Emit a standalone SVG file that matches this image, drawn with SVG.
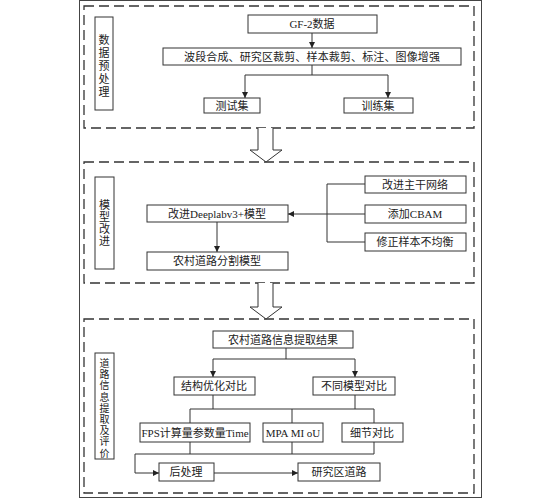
<svg xmlns="http://www.w3.org/2000/svg" width="552" height="500" viewBox="0 0 552 500">
<defs>
<marker id="ah" viewBox="0 0 8 8" refX="8" refY="4" markerWidth="6" markerHeight="6" orient="auto" markerUnits="userSpaceOnUse"><path d="M0,0 L8,4 L0,8 z" fill="#222"/></marker>
<style>
.box{fill:#fff;stroke:#333;stroke-width:1}
.dash{fill:none;stroke:#333;stroke-width:1.3;stroke-dasharray:10 5}
.ln{fill:none;stroke:#333;stroke-width:1}
.t{font-family:"Liberation Serif","Noto Sans CJK SC",serif;font-size:11px;fill:#222;text-anchor:middle;dominant-baseline:central}
.s{font-size:10px}
.big{fill:#fff;stroke:#333;stroke-width:1}
</style>
</defs>
<rect x="0" y="0" width="552" height="500" fill="#fff"/>
<rect x="79.5" y="0.5" width="402" height="497" fill="none" stroke="#444" stroke-width="1"/>
<rect class="dash" x="84" y="6" width="390" height="122"/>
<rect class="dash" x="84" y="162" width="390" height="121"/>
<rect class="dash" x="84" y="319" width="390" height="174"/>

<g id="bigarrows">
<path class="big" d="M258,128 L258,150 L250,150 L266,162 L282,150 L273,150 L273,128"/>
<path class="big" d="M258,283 L258,307 L250,307 L266,319 L282,307 L273,307 L273,283"/>
</g>

<g id="connectors">
<path class="ln" d="M312,33 L312,48" marker-end="url(#ah)"/>
<path class="ln" d="M312,65 L312,75 M245,75 L388,75"/>
<path class="ln" d="M245,75 L245,98" marker-end="url(#ah)"/>
<path class="ln" d="M388,75 L388,98" marker-end="url(#ah)"/>
<path class="ln" d="M217,222 L217,252" marker-end="url(#ah)"/>
<path class="ln" d="M365,184 L327,184 L327,242 L365,242"/>
<path class="ln" d="M365,214 L288,214" marker-end="url(#ah)"/>
<path class="ln" d="M286,348 L286,359 M213,359 L355,359"/>
<path class="ln" d="M213,359 L213,377" marker-end="url(#ah)"/>
<path class="ln" d="M355,359 L355,377" marker-end="url(#ah)"/>
<path class="ln" d="M213,395 L213,409 M355,395 L355,409 M190,409 L374,409 M190,409 L190,423 M292,409 L292,423 M374,409 L374,423"/>
<path class="ln" d="M190,442 L190,454 M292,442 L292,454 M374,442 L374,454 M374,454 L135,454 L135,473"/>
<path class="ln" d="M135,473 L159,473" marker-end="url(#ah)"/>
<path class="ln" d="M214,473 L298,473" marker-end="url(#ah)"/>
</g>

<g id="side1"><rect class="box" x="95" y="17" width="18" height="93"/>
<text class="t"><tspan x="104" y="40">数</tspan><tspan x="104" y="53">据</tspan><tspan x="104" y="66">预</tspan><tspan x="104" y="79">处</tspan><tspan x="104" y="92">理</tspan></text></g>
<g id="gf2"><rect class="box" x="248" y="15" width="129" height="18"/><text class="t" x="312" y="24">GF-2数据</text></g>
<g id="prep"><rect class="box" x="163" y="48" width="298" height="17"/><text class="t" x="312" y="57" textLength="256">波段合成、研究区裁剪、样本裁剪、标注、图像增强</text></g>
<g id="test"><rect class="box" x="204" y="98" width="56" height="15"/><text class="t" x="232" y="106">测试集</text></g>
<g id="train"><rect class="box" x="344" y="98" width="69" height="15"/><text class="t" x="378" y="106">训练集</text></g>

<g id="side2"><rect class="box" x="95" y="177" width="19" height="92"/>
<text class="t"><tspan x="104.5" y="205">模</tspan><tspan x="104.5" y="217">型</tspan><tspan x="104.5" y="229">改</tspan><tspan x="104.5" y="241">进</tspan></text></g>
<g id="deeplab"><rect class="box" x="147" y="205" width="141" height="17"/><text class="t" x="217" y="214">改进Deeplabv3+模型</text></g>
<g id="segmodel"><rect class="box" x="147" y="252" width="141" height="18"/><text class="t" x="217" y="261">农村道路分割模型</text></g>
<g id="backbone"><rect class="box" x="365" y="176" width="101" height="17"/><text class="t" x="415" y="185">改进主干网络</text></g>
<g id="cbam"><rect class="box" x="365" y="205" width="101" height="18"/><text class="t" x="415" y="214">添加CBAM</text></g>
<g id="imbalance"><rect class="box" x="365" y="233" width="101" height="18"/><text class="t" x="415" y="242">修正样本不均衡</text></g>

<g id="side3"><rect class="box" x="95" y="353" width="19" height="106"/>
<text class="t s"><tspan x="104.5" y="363">道</tspan><tspan x="104.5" y="374.2">路</tspan><tspan x="104.5" y="385.4">信</tspan><tspan x="104.5" y="396.6">息</tspan><tspan x="104.5" y="407.8">提</tspan><tspan x="104.5" y="419">取</tspan><tspan x="104.5" y="430.2">及</tspan><tspan x="104.5" y="441.4">评</tspan><tspan x="104.5" y="452.6">价</tspan></text></g>
<g id="result"><rect class="box" x="213" y="331" width="140" height="17"/><text class="t" x="283" y="340">农村道路信息提取结果</text></g>
<g id="struct"><rect class="box" x="174" y="377" width="81" height="18"/><text class="t" x="214" y="386">结构优化对比</text></g>
<g id="models"><rect class="box" x="313" y="377" width="82" height="18"/><text class="t" x="354" y="386">不同模型对比</text></g>
<g id="fps"><rect class="box" x="140" y="423" width="110" height="19"/><text class="t" x="195" y="432.5">FPS计算量参数量Time</text></g>
<g id="mpa"><rect class="box" x="263" y="423" width="60" height="19"/><text class="t" x="293" y="432.5">MPA MI oU</text></g>
<g id="detail"><rect class="box" x="342" y="423" width="61" height="19"/><text class="t" x="372" y="432.5">细节对比</text></g>
<g id="post"><rect class="box" x="159" y="463" width="55" height="18"/><text class="t" x="186" y="472">后处理</text></g>
<g id="area"><rect class="box" x="298" y="463" width="82" height="18"/><text class="t" x="339" y="472">研究区道路</text></g>
</svg>
